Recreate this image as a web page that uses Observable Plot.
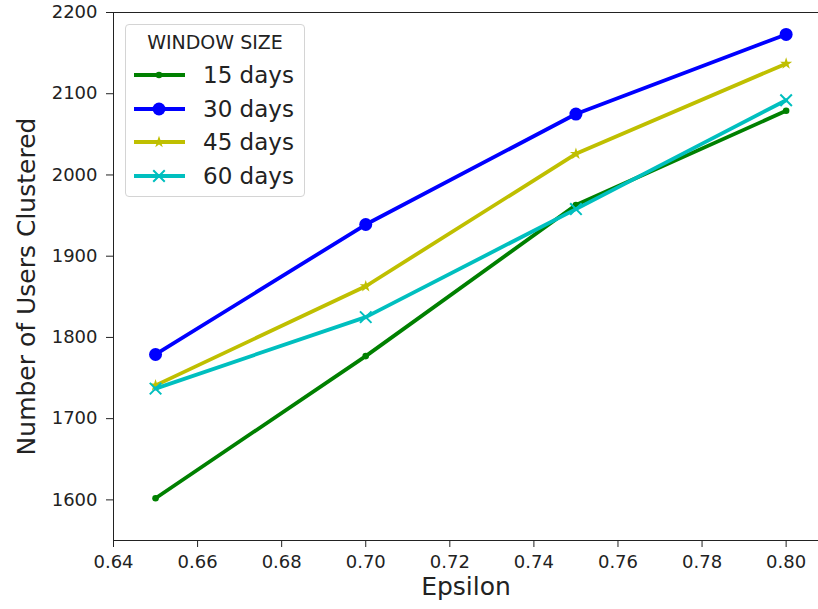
<!DOCTYPE html>
<html><head><meta charset="utf-8">
<script src="https://cdn.jsdelivr.net/npm/d3@7"></script>
<script src="https://cdn.jsdelivr.net/npm/@observablehq/plot@0.6"></script>
<style>
body{margin:0;background:#fff;font-family:"DejaVu Sans",sans-serif;}
#wrap{position:relative;width:818px;height:609px;overflow:hidden;}
#legend{position:absolute;left:125px;top:24px;width:180px;height:173px;border:1px solid #d4d4d4;border-radius:4px;background:rgba(255,255,255,0.85);box-sizing:border-box;font-family:"DejaVu Sans",sans-serif;color:#222;}
#legend .title{position:absolute;left:0;width:100%;top:5px;text-align:center;font-size:19px;line-height:24px;}
#legend .row{position:absolute;left:7px;height:30px;display:flex;align-items:center;}
#legend .row span{font-size:23px;margin-left:16px;line-height:30px;}
</style></head><body><div id="wrap"><div id="chart"></div><div id="legend"></div></div>
<script>
const epsilon = [0.65, 0.70, 0.75, 0.80];
const windowSizes = ["15 days", "30 days", "45 days", "60 days"];
const users15 = [1602, 1777, 1963, 2079];
const users30 = [1779, 1939, 2075, 2173];
const users45 = [1741, 1863, 2026, 2137];
const users60 = [1737, 1825, 1958, 2092];
const xTicks = [0.64, 0.66, 0.68, 0.70, 0.72, 0.74, 0.76, 0.78, 0.80];
const yTicks = [1600, 1700, 1800, 1900, 2000, 2100, 2200];

const colors = ["#008000", "#0000ff", "#bfbf00", "#00bfbf"];
const symbols = ["circle", "circle", "star", "times"];
const radii = [3.3, 6.5, 3.8, 5.3];
const series = [users15, users30, users45, users60];

const data = [];
series.forEach((vals, i) => vals.forEach((v, j) => data.push({win: windowSizes[i], eps: epsilon[j], users: v})));

const marks = [
  Plot.ruleY([2200], {stroke: "#222", strokeWidth: 1}),
  Plot.ruleY([1550], {stroke: "#222", strokeWidth: 1}),
  Plot.ruleX([0.64], {stroke: "#222", strokeWidth: 1}),
  Plot.axisX({ticks: xTicks, tickFormat: d3.format(".2f"), tickSize: 7, tickPadding: 8, fontSize: 18, label: null, color: "#222"}),
  Plot.axisY({ticks: yTicks, tickFormat: d => String(d), tickSize: 7, tickPadding: 9, fontSize: 18, label: null, color: "#222"}),
  Plot.text(["Epsilon"], {frameAnchor: "bottom", dy: 54, fontSize: 25, fill: "#222"}),
  Plot.text(["Number of Users Clustered"], {frameAnchor: "left", textAnchor: "middle", dx: -87, dy: 10, rotate: -90, fontSize: 25, fill: "#222"})
];
windowSizes.forEach((w, i) => {
  const d = data.filter(r => r.win === w);
  marks.push(Plot.line(d, {x: "eps", y: "users", stroke: colors[i], strokeWidth: 3.8}));
  if (symbols[i] === "times") {
    marks.push(Plot.dot(d, {x: "eps", y: "users", symbol: "times", r: radii[i], stroke: colors[i], strokeWidth: 2}));
  } else {
    marks.push(Plot.dot(d, {x: "eps", y: "users", symbol: symbols[i], r: radii[i], fill: colors[i], stroke: "none"}));
  }
});

const chart = Plot.plot({
  width: 818, height: 609,
  marginLeft: 113, marginRight: 0, marginTop: 12, marginBottom: 69,
  style: {fontFamily: "DejaVu Sans, sans-serif", background: "#fff"},
  x: {domain: [0.64, 0.8077]},
  y: {domain: [1550, 2200]},
  marks
});
document.getElementById("chart").appendChild(chart);

// legend
const leg = d3.select("#legend");
leg.append("div").attr("class", "title").text("WINDOW SIZE");
windowSizes.forEach((w, i) => {
  const row = leg.append("div").attr("class", "row").style("top", (35 + i * 33.6) + "px");
  const svg = row.append("svg").attr("width", 54).attr("height", 30);
  svg.append("line").attr("x1", 1).attr("x2", 52).attr("y1", 15).attr("y2", 15).attr("stroke", colors[i]).attr("stroke-width", 3.8);
  const typ = symbols[i] === "star" ? d3.symbolStar : symbols[i] === "times" ? d3.symbolTimes : d3.symbolCircle;
  const size = Math.PI * radii[i] * radii[i];
  const p = svg.append("path").attr("transform", "translate(26,15)").attr("d", d3.symbol(typ, size)());
  if (symbols[i] === "times") p.attr("fill", "none").attr("stroke", colors[i]).attr("stroke-width", 2);
  else p.attr("fill", colors[i]);
  row.append("span").text(w);
});
</script></body></html>
